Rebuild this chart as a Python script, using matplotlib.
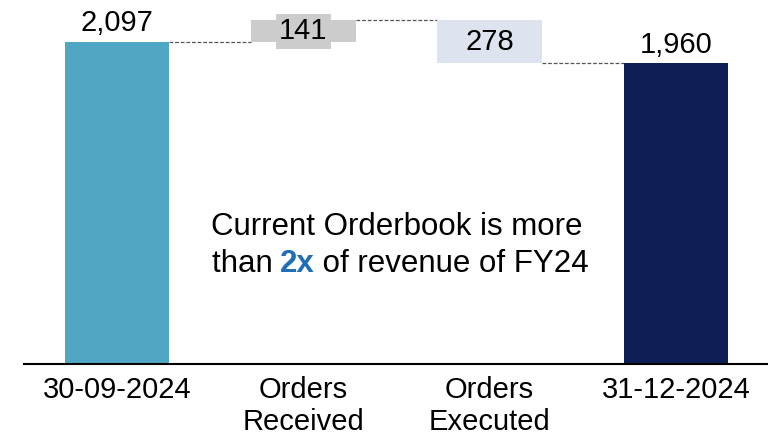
import matplotlib.pyplot as plt
import numpy as np

plt.rcParams['font.family'] = ['Liberation Sans', 'DejaVu Sans']

# data
categories = ['30-09-2024', 'Orders\nReceived', 'Orders\nExecuted', '31-12-2024']
opening = 2097
received = 141
executed = 278
closing = 1960

bottoms = [0, opening, opening + received - executed, 0]
heights = [opening, received, executed, closing]
labels = ['2,097', '141', '278', '1,960']
colors = ['#4FA7C3', '#CDCCCD', '#DDE4EF', '#0E1F56']

fig = plt.figure(figsize=(7.68, 4.37), dpi=100)
ax = fig.add_axes([23.5 / 768, 73.5 / 437, (768 - 23.5) / 768, 363.5 / 437])

x = np.arange(len(categories))
w = 0.56
ax.bar(x, heights, bottom=bottoms, width=w, color=colors, zorder=2)

# connectors
tops = [b + h for b, h in zip(bottoms, heights)]
levels = [opening, opening + received, opening + received - executed]
for i, lv in enumerate(levels):
    ax.plot([x[i] + w / 2, x[i + 1] - w / 2], [lv, lv], ls=(0, (3, 1.5)),
            color='#555555', lw=0.9, zorder=1)

# value labels
fs = 21
ax.text(x[0], tops[0] + 72, labels[0], ha='center', va='baseline', fontsize=fs)
ax.text(x[3], tops[3] + 65, labels[3], ha='center', va='baseline', fontsize=fs)
ax.text(x[1], bottoms[1] + heights[1] / 2, labels[1], ha='center', va='center',
        fontsize=fs, zorder=3,
        bbox=dict(boxstyle='square,pad=0.12', fc=colors[1], ec='none'))
ax.text(x[2], bottoms[2] + heights[2] / 2, labels[2], ha='center', va='center',
        fontsize=fs, zorder=3)

# note, second line has a bold blue part
nfs = 22.5
ax.text(1.5, 838, 'Current Orderbook is more', ha='center', va='baseline', fontsize=nfs)
fig.canvas.draw()
r = fig.canvas.get_renderer()
inv = ax.transData.inverted()
full = ax.text(0, 0, 'than 2x of revenue of FY24', fontsize=nfs, alpha=0)
bb_full = full.get_window_extent(r)
cx = ax.transData.transform((1.5, 0))[0]
x_start = inv.transform((cx - bb_full.width / 2, 0))[0]
a = ax.text(x_start, 597, 'than ', ha='left', va='baseline', fontsize=nfs)
x2 = inv.transform((a.get_window_extent(r).x1, 0))[0]
b = ax.text(x2, 597, '2x', ha='left', va='baseline', fontsize=nfs,
            fontweight='bold', color='#1F6EB6')
x3 = inv.transform((b.get_window_extent(r).x1, 0))[0]
ax.text(x3, 597, ' of revenue of FY24', ha='left', va='baseline', fontsize=nfs)

ax.set_xlim(-0.503, 3.495)
ax.set_ylim(0, 2371)
ax.set_xticks(x)
ax.set_xticklabels(categories, fontsize=fs, linespacing=1.18)
ax.tick_params(axis='x', length=0, pad=9)
ax.set_yticks([])
for s in ['top', 'right', 'left']:
    ax.spines[s].set_visible(False)
ax.spines['bottom'].set_linewidth(1.5)

fig.savefig('out.png', dpi=100)
